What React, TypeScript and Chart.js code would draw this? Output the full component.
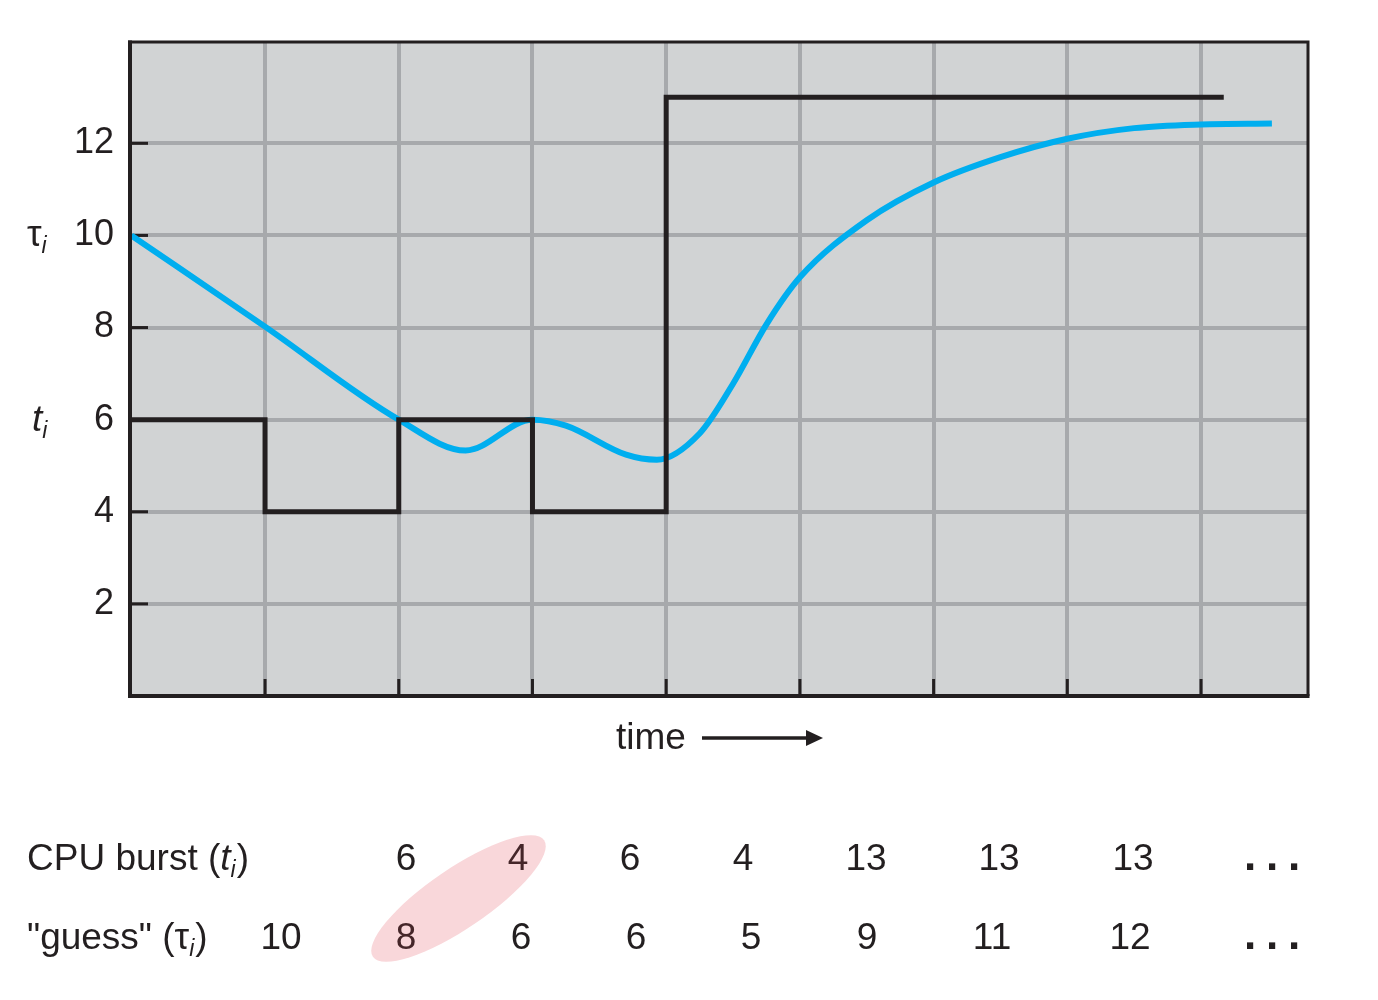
import React, { useEffect, useRef } from 'react';
import { Chart, registerables } from 'chart.js';

Chart.register(...registerables);

// ---- data ----
const burstTimes = [0, 1, 2, 3, 4, 5, 6];
const burstValues = [6, 4, 6, 4, 13, 13, 13];
const burstLineEndX = 8.17;

const tauCurveX = [0, 1, 2, 2.5, 3, 3.25, 3.7, 3.93, 4.25, 4.5, 4.75, 5, 5.5, 6, 6.5, 7, 7.5, 8, 8.53];
const tauCurveY = [10, 8.02, 6.0, 5.33, 6.0, 5.87, 5.24, 5.13, 5.7, 6.78, 8.07, 9.09, 10.33, 11.15, 11.7, 12.1, 12.33, 12.41, 12.43];

const guessValues = [10, 8, 6, 6, 5, 9, 11, 12];

const yTickValues = [2, 4, 6, 8, 10, 12];
const xGridValues = [1, 2, 3, 4, 5, 6, 7, 8];

// ---- layout (positions of table text) ----
const burstColX = [406, 518, 630, 743, 866, 999, 1133];
const guessColX = [281, 406, 521, 636, 751, 867, 992, 1130];
const highlightedBurst = 1;
const highlightedGuess = 1;

const FONT = '"Liberation Sans", Arial, sans-serif';
const INK = '#231f20';
const TEXT_SIZE = 37;

function drawSubLabel(ctx: CanvasRenderingContext2D, x: number, y: number, parts: { t: string; italic?: boolean; sub?: boolean }[], color: string) {
  let cx = x;
  for (const p of parts) {
    const size = p.sub ? 23 : TEXT_SIZE;
    ctx.font = `${p.italic ? 'italic ' : ''}${size}px ${FONT}`;
    ctx.fillStyle = color;
    ctx.fillText(p.t, cx, p.sub ? y + 7 : y);
    cx += ctx.measureText(p.t).width + (p.sub ? 1 : 0);
  }
}

const decorPlugin = {
  id: 'decor',
  beforeDraw(chart: any) {
    const { ctx, chartArea: a } = chart;
    ctx.save();
    ctx.fillStyle = '#d1d3d4';
    ctx.fillRect(a.left, a.top, a.right - a.left, a.bottom - a.top);
    ctx.restore();
  },
  beforeDatasetsDraw(chart: any) {
    const { ctx, chartArea: a, scales } = chart;
    ctx.save();
    ctx.strokeStyle = INK;
    ctx.lineWidth = 3;
    for (const v of yTickValues) {
      const y = scales.y.getPixelForValue(v);
      ctx.beginPath();
      ctx.moveTo(a.left, y);
      ctx.lineTo(a.left + 18, y);
      ctx.stroke();
    }
    for (const v of xGridValues) {
      const x = scales.x.getPixelForValue(v);
      ctx.beginPath();
      ctx.moveTo(x, a.bottom);
      ctx.lineTo(x, a.bottom - 17);
      ctx.stroke();
    }
    ctx.restore();
  },
  afterDatasetsDraw(chart: any) {
    const { ctx, chartArea: a } = chart;
    ctx.save();
    ctx.strokeStyle = INK;
    ctx.lineWidth = 3;
    ctx.beginPath();
    ctx.moveTo(a.left - 2, a.top);
    ctx.lineTo(a.right, a.top);
    ctx.lineTo(a.right, a.bottom);
    ctx.stroke();
    ctx.lineWidth = 4;
    ctx.beginPath();
    ctx.moveTo(a.left, a.top - 1.5);
    ctx.lineTo(a.left, a.bottom);
    ctx.lineTo(a.right + 1.5, a.bottom);
    ctx.stroke();
    ctx.restore();
  },
  afterDraw(chart: any) {
    const { ctx } = chart;
    ctx.save();
    ctx.textBaseline = 'alphabetic';
    ctx.textAlign = 'left';

    // axis symbols
    drawSubLabel(ctx, 27, 246, [{ t: 'τ' }, { t: 'i', italic: true, sub: true }], INK);
    drawSubLabel(ctx, 32, 431, [{ t: 't', italic: true }, { t: 'i', italic: true, sub: true }], INK);

    // time arrow
    ctx.font = `${TEXT_SIZE}px ${FONT}`;
    ctx.fillStyle = INK;
    ctx.fillText('time', 616, 749);
    ctx.strokeStyle = INK;
    ctx.lineWidth = 3.5;
    ctx.beginPath();
    ctx.moveTo(702, 738);
    ctx.lineTo(812, 738);
    ctx.stroke();
    ctx.beginPath();
    ctx.moveTo(806, 730);
    ctx.lineTo(823, 738);
    ctx.lineTo(806, 746);
    ctx.closePath();
    ctx.fill();

    // highlight ellipse
    ctx.fillStyle = '#f9d7da';
    ctx.beginPath();
    ctx.ellipse(458.5, 898.5, 103.5, 30, (-34.2 * Math.PI) / 180, 0, Math.PI * 2);
    ctx.fill();

    // table rows
    const row1 = 870;
    const row2 = 949;
    drawSubLabel(ctx, 27, row1, [{ t: 'CPU burst (' }, { t: 't', italic: true }, { t: 'i', italic: true, sub: true }, { t: ')' }], INK);
    drawSubLabel(ctx, 27, row2, [{ t: '"guess" (' }, { t: 'τ' }, { t: 'i', italic: true, sub: true }, { t: ')' }], INK);

    ctx.font = `${TEXT_SIZE}px ${FONT}`;
    ctx.textAlign = 'center';
    burstValues.forEach((v, i) => {
      ctx.fillStyle = i === highlightedBurst ? '#452629' : INK;
      ctx.fillText(String(v), burstColX[i], row1);
    });
    guessValues.forEach((v, i) => {
      ctx.fillStyle = i === highlightedGuess ? '#452629' : INK;
      ctx.fillText(String(v), guessColX[i], row2);
    });

    // ellipsis
    ctx.font = `bold 44px ${FONT}`;
    ctx.fillStyle = INK;
    for (const row of [row1, row2]) {
      for (const dx of [-22, 0, 22]) ctx.fillText('.', 1272 + dx, row);
    }
    ctx.restore();
  },
};

export default function App() {
  const ref = useRef<HTMLCanvasElement | null>(null);

  useEffect(() => {
    if (!ref.current) return;
    const burstData = burstTimes.map((t, i) => ({ x: t, y: burstValues[i] }));
    burstData.push({ x: burstLineEndX, y: burstValues[burstValues.length - 1] });
    const tauData = tauCurveX.map((x, i) => ({ x, y: tauCurveY[i] }));

    const chart = new Chart(ref.current, {
      type: 'line',
      data: {
        datasets: [
          {
            label: 'CPU burst',
            data: burstData,
            borderColor: INK,
            borderWidth: 5,
            stepped: 'before',
            pointRadius: 0,
            borderCapStyle: 'butt',
            borderJoinStyle: 'miter',
            fill: false,
          },
          {
            label: 'guess',
            data: tauData,
            borderColor: '#00aeef',
            borderWidth: 6,
            cubicInterpolationMode: 'monotone',
            pointRadius: 0,
            borderCapStyle: 'butt',
            fill: false,
          },
        ],
      },
      options: {
        responsive: false,
        animation: false,
        layout: { padding: { left: 0, top: 42, right: 70, bottom: 0 } },
        plugins: { legend: { display: false }, tooltip: { enabled: false } },
        scales: {
          x: {
            type: 'linear',
            min: -0.01,
            max: 8.8,
            afterBuildTicks: (axis: any) => {
              axis.ticks = xGridValues.map((v) => ({ value: v }));
            },
            afterFit: (scale: any) => {
              scale.height = 304;
            },
            ticks: { display: false },
            grid: { color: '#a7a9ac', lineWidth: 4, drawTicks: false },
            border: { display: false },
          },
          y: {
            type: 'linear',
            min: 0,
            max: 14.2,
            afterBuildTicks: (axis: any) => {
              axis.ticks = yTickValues.map((v) => ({ value: v }));
            },
            afterFit: (scale: any) => {
              scale.width = 130;
            },
            ticks: {
              color: INK,
              padding: 16,
              font: { family: FONT, size: 36 },
            },
            grid: { color: '#a7a9ac', lineWidth: 4, drawTicks: false },
            border: { display: false },
          },
        },
      },
      plugins: [decorPlugin],
    });
    return () => chart.destroy();
  }, []);

  return (
    <div style={{ position: 'absolute', left: 0, top: 0, width: 1378, height: 1000, background: '#fff' }}>
      <canvas ref={ref} width={1378} height={1000} style={{ display: 'block' }} />
    </div>
  );
}
